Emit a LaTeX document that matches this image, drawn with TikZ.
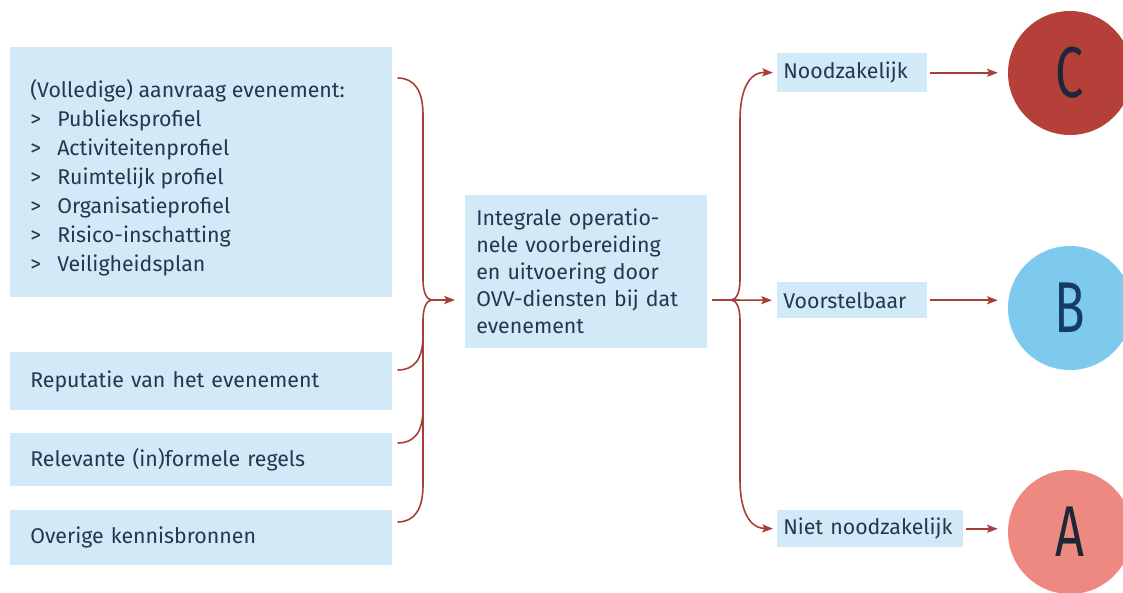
\documentclass[tikz,border=0pt]{standalone}
\usepackage{fontspec}
\setmainfont{Fira Sans}
\usetikzlibrary{arrows.meta,calc}

\definecolor{vakblauw}{RGB}{210,233,247}
\definecolor{tekstkleur}{RGB}{30,58,75}
\definecolor{pijlrood}{RGB}{168,62,56}
\definecolor{bolrood}{RGB}{181,64,58}
\definecolor{bolblauw}{RGB}{125,202,238}
\definecolor{bolroze}{RGB}{238,137,130}
\definecolor{letterdonker}{RGB}{28,40,56}
\definecolor{letterblauw}{RGB}{20,60,100}

\newcommand{\opsom}{\makebox[20.25pt][l]{>}}

\begin{document}
\begin{tikzpicture}[x=0.75pt,y=0.75pt,yscale=-1,xscale=1,
  vak/.style={fill=vakblauw, draw=none, inner sep=0pt, anchor=north west},
  tekst/.style={text=tekstkleur, font=\fontsize{16}{21.75}\selectfont},
  lijn/.style={draw=pijlrood, line width=1.2pt},
  pijl/.style={lijn, -{Stealth[length=8pt,width=6pt,inset=1.5pt]}},
  bol/.style={circle, minimum size=93pt, inner sep=0pt, font=\fontsize{54}{54}\selectfont}]
\useasboundingbox (0,0) rectangle (1123,592);

%Shape: Rectangle
\node [vak, minimum width=286.5pt, minimum height=187.5pt] (aanvraag) at (10,47) {};
% Text Node
\node [tekst, anchor=north west, inner sep=0pt, align=left] (aanvraagtekst) at (30,79) {(Volledige) aanvraag evenement:\\
\opsom Publieksprofiel\\
\opsom Activiteitenprofiel\\
\opsom Ruimtelijk profiel\\
\opsom Organisatieprofiel\\
\opsom Risico-inschatting\\
\opsom Veiligheidsplan};
%Shape: Rectangle
\node [vak, tekst, text width=256.5pt, inner xsep=15pt, minimum height=43.5pt, align=left] (reputatie) at (10,352) {Reputatie van het evenement};
%Shape: Rectangle
\node [vak, tekst, text width=256.5pt, inner xsep=15pt, minimum height=39.75pt, align=left] (regels) at (10,433) {Relevante (in)formele regels};
%Shape: Rectangle
\node [vak, tekst, text width=256.5pt, inner xsep=15pt, minimum height=41.25pt, align=left] (overige) at (10,510) {Overige kennisbronnen};

%Shape: Rectangle
\node [vak, tekst, text width=165pt, inner xsep=8.25pt, minimum height=114.75pt, align=left, font=\fontsize{16}{20.25}\selectfont] (ovv) at (465,195) {Integrale operatio-\\
nele voorbereiding\\
en uitvoering door\\
OVV-diensten bij dat\\
evenement};

%Shape: Rectangle
\node [vak, tekst, text width=103.5pt, inner xsep=4.5pt, minimum height=29.25pt, align=left] (nood) at (777,53) {Noodzakelijk};
\node [vak, tekst, text width=103.5pt, inner xsep=4.5pt, minimum height=27pt, align=left] (voor) at (777,282) {Voorstelbaar};
\node [vak, tekst, text width=130.5pt, inner xsep=4.5pt, minimum height=27.75pt, align=left] (niet) at (777,510) {Niet noodzakelijk};

%Shape: Circle
\node [bol, fill=bolrood, text=letterdonker] (klasseC) at (1070,73) {\scalebox{0.7}[1]{C}};
\node [bol, fill=bolblauw, text=letterblauw] (klasseB) at (1070,308) {\scalebox{0.7}[1]{B}};
\node [bol, fill=bolroze, text=letterdonker] (klasseA) at (1070,532) {\scalebox{0.7}[1]{A}};

\coordinate (lpunt) at (432,300);
\coordinate (rpunt) at (731,300);

%Curve Lines
\draw [lijn] ($(aanvraag.north east)+(5,31)$) .. controls (414,78) and (423,90) .. (423,115) -- (423,280) .. controls (423,293) and (427,300) .. (lpunt);
\draw [lijn] ($(overige.north east)+(5,12)$) .. controls (414,522) and (423,510) .. (423,485) -- (423,320) .. controls (423,307) and (427,300) .. (lpunt);
\draw [lijn] ($(reputatie.north east)+(5,18)$) .. controls (414,370) and (423,360) .. (423,335);
\draw [lijn] ($(regels.north east)+(5,10)$) .. controls (414,443) and (423,433) .. (423,408);
%Straight Lines
\draw [pijl, shorten >=7.5pt] (lpunt) -- (ovv.west |- lpunt);

%Straight Lines
\draw [lijn, shorten <=3pt] (ovv.east |- rpunt) -- (rpunt);
\draw [pijl, shorten >=3.75pt] (rpunt) -- (voor.west);
%Curve Lines
\draw [pijl, shorten >=3pt] (rpunt) .. controls (736,300) and (740,293) .. (740,280) -- (740,120) .. controls (740,92) and (748,72) .. (nood.west);
\draw [pijl, shorten >=3pt] (rpunt) .. controls (736,300) and (740,307) .. (740,320) -- (740,480) .. controls (740,508) and (748,528) .. (niet.west);

%Straight Lines
\draw [pijl, shorten <=1.5pt, shorten >=7.5pt] (nood.east) -- (nood.east -| klasseC.west);
\draw [pijl, shorten <=1.5pt, shorten >=7.5pt] (voor.east) -- (voor.east -| klasseB.west);
\draw [pijl, shorten <=1.5pt, shorten >=7.5pt] (niet.east) -- (niet.east -| klasseA.west);
\end{tikzpicture}
\end{document}
